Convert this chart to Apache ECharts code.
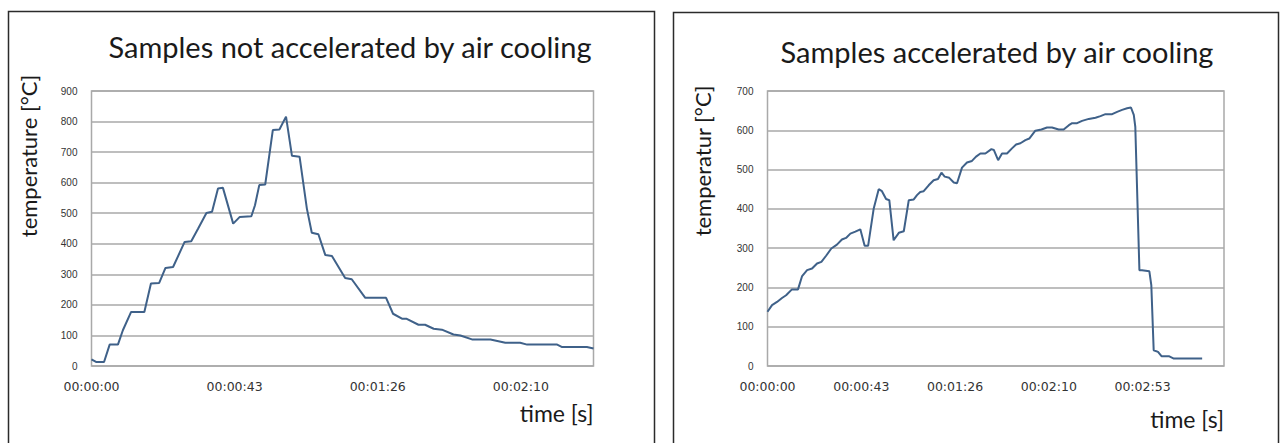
<!DOCTYPE html>
<html>
<head>
<meta charset="utf-8">
<script src="https://cdn.jsdelivr.net/npm/echarts@6/dist/echarts.min.js"></script>
<style>
  html, body { margin: 0; padding: 0; background: #fff; }
  #main { width: 1285px; height: 443px; }
</style>
</head>
<body>
<div id="main"></div>
<script>
// left chart: samples not accelerated (time s, temperature °C)
var leftTime = [0, 1.5, 3.8, 5.5, 8, 9.5, 12, 16, 18, 20.5, 22.4, 24.7, 28.2, 30.2, 32.3, 34.8, 36.5, 38.3, 39.8, 42.9,
  44.9, 48.4, 49.5, 50.8, 52.6, 54.9, 56.9, 58.9, 60.7, 63, 65.2, 66.7, 68.7, 70.8, 72.8, 76.8, 78.8, 82.9, 89.2, 91.3,
  94, 95.3, 99, 101, 103.6, 106.1, 109.6, 111.7, 115.2, 120.8, 125.3, 129.8, 131.9, 141, 142.5, 150, 152];
var leftTemp = [22, 13, 13, 70, 70, 117, 177, 177, 270, 272, 321, 324, 406, 408, 450, 501, 505, 581, 583, 466,
  488, 490, 526, 592, 594, 772, 774, 816, 688, 685, 516, 436, 431, 363, 360, 288, 284, 223, 223, 171,
  155, 155, 135, 135, 122, 119, 103, 100, 87, 87, 76, 76, 70, 70, 62, 62, 57];

// right chart: samples accelerated by air cooling
var rightTime = [0, 2.1, 4.4, 6.7, 8.6, 11.3, 14.1, 16, 18.3, 20.6, 22.9, 24.9, 27, 29.5, 32.1, 34.4, 36.3, 38.3, 40.6, 42.9,
  44.9, 46.5, 49.1, 51.4, 52.9, 54.8, 56.3, 58.3, 60.7, 63, 65.3, 67.6, 69.1, 70.6, 72.2, 74.5, 76.8, 78.8, 80.4, 81.9,
  84, 86.1, 87.6, 89.9, 92.2, 94.5, 96.4, 98.4, 100.7, 103.5, 104.6, 106.6, 108.4, 110.7, 113, 114.9, 116.9, 119.2, 121, 123.8,
  126.6, 129.2, 131.5, 134.6, 136.9, 139.3, 140.8, 143.1, 145.4, 148.5, 151.6, 153.9, 156.2, 159.3, 161.6, 163.9, 166.2, 168, 169.3, 170,
  171.9, 173.1, 176.5, 177.4, 178.5, 180.5, 182.1, 185.5, 187.8, 200.9];
var rightTemp = [138, 155, 163, 173, 180, 195, 195, 229, 244, 248, 261, 265, 280, 299, 309, 322, 326, 337, 342, 348,
  306, 306, 401, 450, 445, 425, 422, 320, 339, 343, 422, 424, 435, 443, 445, 460, 473, 476, 492, 482,
  479, 467, 465, 505, 518, 522, 533, 541, 541, 552, 550, 524, 541, 541, 554, 564, 567, 575, 579, 599,
  602, 607, 607, 602, 602, 613, 618, 618, 624, 629, 632, 636, 641, 641, 647, 652, 656, 658, 639, 609,
  244, 244, 241, 206, 40, 36, 25, 25, 19, 19];

var tickStep = 130 / 3;   // excel puts labels every ~43.3 s
var leftMax = [152, 900];
var rightMax = [211, 700];

var myChart = echarts.init(document.getElementById('main'), null, { renderer: 'svg' });

function pairs (xs, ys) {
  var out = [];
  for (var i = 0; i < xs.length; i++) {
    out.push([xs[i], ys[i]]);
  }
  return out;
}

// seconds -> hh:mm:ss, only on the label steps
function timeLabel (v) {
  var k = v / tickStep;
  if (Math.abs(k - Math.round(k)) > 0.001) return '';
  var s = Math.floor(Math.round(v * 1000) / 1000);
  var mm = Math.floor(s / 60), ss = s % 60;
  return '00:' + (mm < 10 ? '0' : '') + mm + ':' + (ss < 10 ? '0' : '') + ss;
}

function makeX (idx, max, namePad) {
  return {
    type: 'value', gridIndex: idx, min: 0, max: max, interval: tickStep,
    name: 'time [s]', nameLocation: 'end', nameGap: 0,
    nameTextStyle: { fontFamily: 'Lato', fontSize: 23, color: '#1a1a1a', align: 'right', verticalAlign: 'top', padding: [namePad, 0, 0, 0] },
    axisLine: { show: false }, axisTick: { show: false }, splitLine: { show: false },
    axisLabel: { formatter: timeLabel, margin: 14, fontFamily: 'DejaVu Sans', fontSize: 12.5, color: '#333' }
  };
}

function makeY (idx, max) {
  return {
    type: 'value', gridIndex: idx, min: 0, max: max, interval: 100,
    axisLine: { show: false }, axisTick: { show: false },
    splitLine: { lineStyle: { color: '#a9a9a9', width: 1.5 } },
    axisLabel: { margin: 14, fontFamily: 'Liberation Sans', fontSize: 10, color: '#333' }
  };
}

var lineStyle = { color: '#3f6189', width: 2 };

var option = {
  animation: false,
  title: [
    { text: 'Samples not accelerated by air cooling', left: 345, top: 41, textAlign: 'center', textVerticalAlign: 'middle',
      textStyle: { fontFamily: 'Lato', fontSize: 29, fontWeight: 'normal', color: '#1a1a1a' } },
    { text: 'Samples accelerated by air cooling', left: 992, top: 46, textAlign: 'center', textVerticalAlign: 'middle',
      textStyle: { fontFamily: 'Lato', fontSize: 29, fontWeight: 'normal', color: '#1a1a1a' } }
  ],
  grid: [
    { left: 91.5, top: 91, width: 502, height: 275, show: true, borderColor: '#a9a9a9', borderWidth: 1.5 },
    { left: 767.5, top: 91, width: 456.5, height: 275, show: true, borderColor: '#a9a9a9', borderWidth: 1.5 }
  ],
  xAxis: [makeX(0, leftMax[0], 35), makeX(1, rightMax[0], 41)],
  yAxis: [makeY(0, leftMax[1]), makeY(1, rightMax[1])],
  series: [
    { type: 'line', xAxisIndex: 0, yAxisIndex: 0, data: pairs(leftTime, leftTemp), showSymbol: false, lineStyle: lineStyle },
    { type: 'line', xAxisIndex: 1, yAxisIndex: 1, data: pairs(rightTime, rightTemp), showSymbol: false, lineStyle: lineStyle }
  ],
  graphic: [
    { type: 'rect', shape: { x: 8.5, y: 11.5, width: 646, height: 440 }, style: { fill: 'none', stroke: '#2b2b2b', lineWidth: 1.5 } },
    { type: 'rect', shape: { x: 673.5, y: 12.5, width: 605, height: 440 }, style: { fill: 'none', stroke: '#2b2b2b', lineWidth: 1.5 } },
    { type: 'text', x: 28, y: 156, rotation: Math.PI / 2,
      style: { text: 'temperature [°C]', font: '22px Lato', fill: '#1a1a1a', align: 'center', verticalAlign: 'middle' } },
    { type: 'text', x: 702, y: 161, rotation: Math.PI / 2,
      style: { text: 'temperatur [°C]', font: '22px Lato', fill: '#1a1a1a', align: 'center', verticalAlign: 'middle' } }
  ]
};

myChart.setOption(option);
</script>
</body>
</html>
